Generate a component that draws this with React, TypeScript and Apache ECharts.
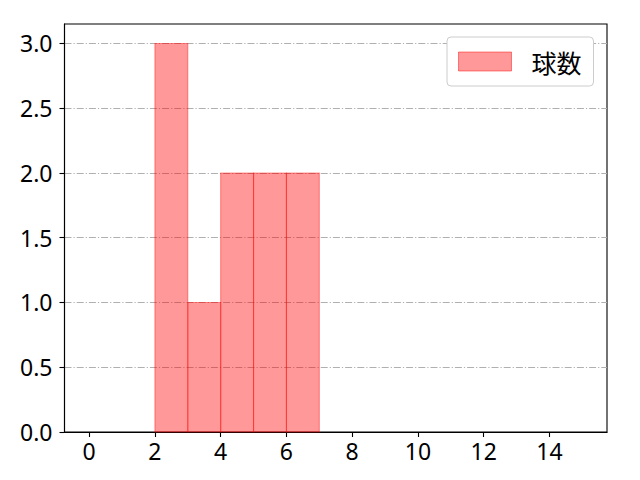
import React, { useEffect, useRef } from "react";
import * as echarts from "echarts";

const binEdges = [2, 3, 4, 5, 6, 7];
const counts = [3, 1, 2, 2, 2];
const seriesName = "球数";
const xTicks = [0, 2, 4, 6, 8, 10, 12, 14];
const yTicks = [0, 0.5, 1.0, 1.5, 2.0, 2.5, 3.0];

const TICK_FONT = "'Noto Sans', sans-serif";
const CJK_FONT = "'Noto Sans CJK JP', 'Noto Sans', sans-serif";

export default function App() {
  const ref = useRef<HTMLDivElement>(null);
  useEffect(() => {
    if (!ref.current) return;
    const chart = echarts.init(ref.current, undefined, { renderer: "svg" });
    const data = counts.map((c, i) => [binEdges[i], binEdges[i + 1], c]);
    chart.setOption({
      animation: false,
      backgroundColor: "#ffffff",
      grid: {
        left: 64.5,
        right: 33,
        top: 24,
        bottom: 48,
        show: true,
        borderColor: "#000",
        borderWidth: 1.1,
        backgroundColor: "transparent",
      },
      legend: {
        show: true,
        data: [seriesName],
        left: 447,
        top: 37,
        orient: "vertical",
        padding: [12, 12, 12, 11],
        itemWidth: 53,
        itemHeight: 19,
        itemGap: 10,
        icon: "rect",
        backgroundColor: "#fff",
        borderColor: "#cccccc",
        borderWidth: 1,
        borderRadius: 4,
        textStyle: { fontFamily: CJK_FONT, fontSize: 25, color: "#000", padding: [0, 0, 0, 15] },
        itemStyle: { color: "rgba(255,0,0,0.4)", borderColor: "rgba(255,0,0,0.45)", borderWidth: 1 },
      },
      xAxis: {
        type: "value",
        min: -0.75,
        max: 15.75,
        splitLine: { show: false },
        axisLine: { show: true, onZero: false, lineStyle: { color: "#000", width: 1.1 } },
        axisTick: { show: true, customValues: xTicks, length: 5, lineStyle: { color: "#000", width: 1.1 } },
        axisLabel: {
          customValues: xTicks,
          fontFamily: TICK_FONT,
          fontSize: 23,
          color: "#000",
          margin: 7,
          formatter: (v: number) => String(v),
        },
      },
      yAxis: {
        type: "value",
        min: 0,
        max: 3.15,
        interval: 0.5,
        axisLine: { show: true, onZero: false, lineStyle: { color: "#000", width: 1.1 } },
        axisTick: { show: true, customValues: yTicks, length: 5, lineStyle: { color: "#000", width: 1.1 } },
        axisLabel: {
          customValues: yTicks,
          fontFamily: TICK_FONT,
          fontSize: 23,
          color: "#000",
          margin: 12,
          formatter: (v: number) => v.toFixed(1),
        },
        splitLine: {
          show: true,
          lineStyle: { color: "#b0b0b0", width: 1.1, type: [7, 2, 1.2, 2] },
        },
      },
      series: [
        {
          name: seriesName,
          type: "custom",
          itemStyle: { color: "rgba(255,0,0,0.4)" },
          renderItem: (params: any, api: any) => {
            const x0 = api.value(0);
            const x1 = api.value(1);
            const h = api.value(2);
            const p0 = api.coord([x0, h]);
            const p1 = api.coord([x1, 0]);
            return {
              type: "rect",
              shape: { x: p0[0], y: p0[1], width: p1[0] - p0[0], height: p1[1] - p0[1] },
              style: { fill: "rgba(255,0,0,0.4)", stroke: "rgba(255,0,0,0.4)", lineWidth: 1.1 },
            };
          },
          encode: { x: [0, 1], y: 2 },
          data,
        },
      ],
    });
    return () => chart.dispose();
  }, []);
  return (
    <div
      ref={ref}
      style={{ position: "absolute", left: 0, top: 0, width: 640, height: 480 }}
    />
  );
}
